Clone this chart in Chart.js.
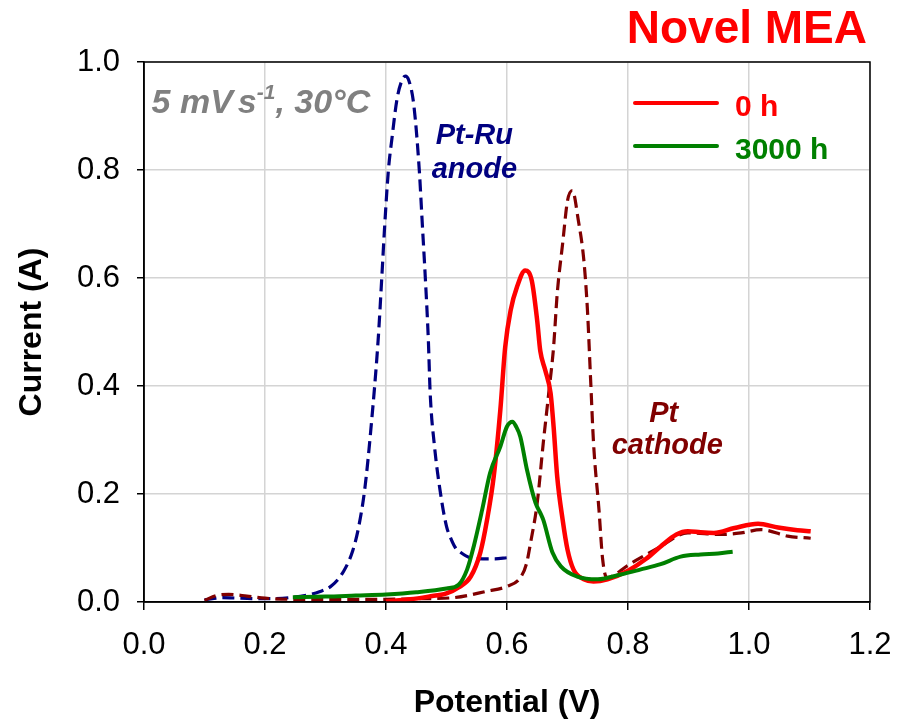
<!DOCTYPE html>
<html>
<head>
<meta charset="utf-8">
<script src="https://cdn.jsdelivr.net/npm/chart.js@4"></script>
<style>
  html, body { margin: 0; padding: 0; background: #fff; }
  #wrap { width: 906px; height: 723px; }
</style>
</head>
<body>
<div id="wrap"><canvas id="cvChart" width="906" height="723"></canvas></div>
<script>
// Pt-Ru anode reference (dashed navy)
var anodeV = [0.10, 0.13, 0.16, 0.20, 0.24, 0.27, 0.29, 0.31, 0.33, 0.345, 0.355, 0.365, 0.375, 0.387, 0.393, 0.398, 0.404, 0.41, 0.418, 0.426, 0.432, 0.438, 0.446, 0.455, 0.46, 0.465, 0.47, 0.473, 0.48, 0.49, 0.50, 0.506, 0.515, 0.523, 0.539, 0.56, 0.58, 0.60];
var anodeI = [0.004, 0.008, 0.007, 0.006, 0.008, 0.013, 0.019, 0.030, 0.057, 0.095, 0.14, 0.21, 0.32, 0.485, 0.60, 0.70, 0.80, 0.86, 0.93, 0.965, 0.974, 0.965, 0.92, 0.80, 0.70, 0.60, 0.485, 0.387, 0.29, 0.202, 0.14, 0.121, 0.10, 0.092, 0.082, 0.080, 0.080, 0.082];

// Pt cathode reference (dashed maroon)
var cathodeV = [0.10, 0.12, 0.14, 0.17, 0.20, 0.25, 0.31, 0.40, 0.45, 0.511, 0.567, 0.60, 0.622, 0.632, 0.639, 0.65, 0.66, 0.669, 0.677, 0.683, 0.692, 0.70, 0.708, 0.718, 0.727, 0.733, 0.738, 0.743, 0.752, 0.758, 0.765, 0.80, 0.816, 0.85, 0.899, 0.954, 0.987, 1.02, 1.064, 1.102];
var cathodeI = [0.003, 0.012, 0.014, 0.011, 0.007, 0.005, 0.005, 0.005, 0.006, 0.008, 0.02, 0.029, 0.045, 0.07, 0.11, 0.184, 0.295, 0.387, 0.472, 0.571, 0.664, 0.743, 0.762, 0.706, 0.633, 0.54, 0.417, 0.295, 0.171, 0.08, 0.045, 0.068, 0.079, 0.10, 0.128, 0.125, 0.128, 0.134, 0.122, 0.118];

// Novel MEA, 0 h
var mea0V = [0.40, 0.44, 0.47, 0.50, 0.52, 0.54, 0.556, 0.567, 0.578, 0.589, 0.597, 0.606, 0.617, 0.63, 0.641, 0.65, 0.655, 0.663, 0.672, 0.677, 0.683, 0.692, 0.70, 0.71, 0.727, 0.743, 0.766, 0.80, 0.83, 0.854, 0.88, 0.899, 0.92, 0.942, 0.976, 1.015, 1.048, 1.08, 1.102];
var mea0I = [0.001, 0.005, 0.010, 0.016, 0.027, 0.047, 0.092, 0.152, 0.232, 0.356, 0.472, 0.54, 0.585, 0.614, 0.595, 0.52, 0.465, 0.43, 0.387, 0.325, 0.232, 0.152, 0.097, 0.06, 0.042, 0.038, 0.042, 0.058, 0.08, 0.103, 0.125, 0.131, 0.129, 0.128, 0.137, 0.145, 0.138, 0.133, 0.131];

// Novel MEA, 3000 h
var mea3000V = [0.246, 0.30, 0.35, 0.40, 0.45, 0.50, 0.52, 0.534, 0.545, 0.559, 0.572, 0.589, 0.60, 0.609, 0.615, 0.622, 0.633, 0.647, 0.655, 0.66, 0.675, 0.689, 0.716, 0.75, 0.788, 0.82, 0.854, 0.887, 0.92, 0.949, 0.973];
var mea3000I = [0.009, 0.010, 0.012, 0.014, 0.018, 0.025, 0.032, 0.06, 0.103, 0.171, 0.239, 0.288, 0.325, 0.334, 0.325, 0.306, 0.245, 0.184, 0.165, 0.152, 0.092, 0.066, 0.047, 0.042, 0.051, 0.06, 0.07, 0.084, 0.088, 0.090, 0.093];

var xTicks = [0.0, 0.2, 0.4, 0.6, 0.8, 1.0, 1.2];
var yTicks = [0.0, 0.2, 0.4, 0.6, 0.8, 1.0];
var seriesLabels = ["0 h", "3000 h"];
var chartTitle = "Novel MEA";

var FONT = '"Liberation Sans", Arial, Helvetica, sans-serif';

function toPoints(xs, ys) {
  return xs.map(function (x, i) { return { x: x, y: ys[i] }; });
}

// text, legend and frame drawn on top of the chart
var decorPlugin = {
  id: 'decor',
  afterDraw: function (chart) {
    var ctx = chart.ctx, a = chart.chartArea;
    var xs = chart.scales.x, ys = chart.scales.y;
    ctx.save();

    // plot frame
    ctx.strokeStyle = '#000';
    ctx.lineWidth = 1.5;
    ctx.strokeRect(a.left, a.top, a.right - a.left, a.bottom - a.top);

    // title
    ctx.fillStyle = '#ff0000';
    ctx.font = 'bold 46px ' + FONT;
    ctx.textAlign = 'right';
    ctx.textBaseline = 'alphabetic';
    ctx.fillText(chartTitle, a.right - 3, 43);

    // legend
    var legColors = ['#ff0000', '#008000'];
    ctx.lineWidth = 4;
    ctx.lineCap = 'round';
    ctx.textAlign = 'left';
    ctx.font = 'bold 30px ' + FONT;
    for (var i = 0; i < seriesLabels.length; i++) {
      var ly = a.top + 41 + i * 43;
      ctx.strokeStyle = legColors[i];
      ctx.beginPath();
      ctx.moveTo(a.right - 235, ly);
      ctx.lineTo(a.right - 153, ly);
      ctx.stroke();
      ctx.fillStyle = legColors[i];
      ctx.fillText(seriesLabels[i], a.right - 135, ly + 13);
    }

    // scan rate note
    var nx = xs.getPixelForValue(0.0125), ny = ys.getPixelForValue(0.906);
    ctx.fillStyle = '#808080';
    ctx.font = 'italic bold 34px ' + FONT;
    ctx.fillText('5 mV', nx, ny);
    nx += ctx.measureText('5 mV').width + 5;
    ctx.fillText('s', nx, ny);
    nx += ctx.measureText('s').width;
    ctx.font = 'italic bold 21px ' + FONT;
    ctx.fillText('-1', nx, ny - 14);
    nx += ctx.measureText('-1').width;
    ctx.font = 'italic bold 34px ' + FONT;
    ctx.fillText(', 30°C', nx, ny);

    // curve labels
    ctx.textAlign = 'center';
    ctx.font = 'italic bold 29px ' + FONT;
    ctx.fillStyle = '#000080';
    ctx.fillText('Pt-Ru', xs.getPixelForValue(0.546), ys.getPixelForValue(0.849));
    ctx.fillText('anode', xs.getPixelForValue(0.546), ys.getPixelForValue(0.786));
    ctx.fillStyle = '#800000';
    ctx.fillText('Pt', xs.getPixelForValue(0.859), ys.getPixelForValue(0.334));
    ctx.fillText('cathode', xs.getPixelForValue(0.865), ys.getPixelForValue(0.275));

    ctx.restore();
  }
};

new Chart(document.getElementById('cvChart'), {
  type: 'scatter',
  data: {
    datasets: [
      {
        label: 'Pt-Ru anode',
        data: toPoints(anodeV, anodeI),
        borderColor: '#000080',
        borderWidth: 3.2,
        borderDash: [12, 6],
        order: 4
      },
      {
        label: 'Pt cathode',
        data: toPoints(cathodeV, cathodeI),
        borderColor: '#800000',
        borderWidth: 3.2,
        borderDash: [12, 6],
        order: 3
      },
      {
        label: seriesLabels[0],
        data: toPoints(mea0V, mea0I),
        borderColor: '#ff0000',
        borderWidth: 4.5,
        order: 2
      },
      {
        label: seriesLabels[1],
        data: toPoints(mea3000V, mea3000I),
        borderColor: '#008000',
        borderWidth: 4,
        order: 1
      }
    ]
  },
  options: {
    responsive: false,
    animation: false,
    datasets: {
      scatter: {
        showLine: true,
        pointRadius: 0,
        pointHoverRadius: 0,
        fill: false,
        cubicInterpolationMode: 'monotone'
      }
    },
    layout: { padding: { top: 62, right: 36, left: 0, bottom: 0 } },
    plugins: {
      legend: { display: false },
      title: { display: false },
      tooltip: { enabled: false }
    },
    scales: {
      x: {
        type: 'linear',
        min: 0,
        max: 1.2,
        afterBuildTicks: function (s) { s.ticks = xTicks.map(function (v) { return { value: v }; }); },
        afterFit: function (s) { s.height = 121; s.paddingLeft = 0; s.paddingRight = 0; },
        ticks: {
          color: '#000',
          padding: 17,
          font: { family: FONT, size: 31 },
          callback: function (v) { return Number(v).toFixed(1); }
        },
        grid: { color: '#d4d4d4', lineWidth: 1.5, tickColor: '#000', tickLength: 8 },
        border: { color: '#000', width: 1.5 },
        title: {
          display: true,
          text: 'Potential (V)',
          color: '#000',
          font: { family: FONT, size: 32, weight: 'bold' },
          padding: { top: 0, bottom: 1 }
        }
      },
      y: {
        type: 'linear',
        min: 0,
        max: 1.0,
        afterBuildTicks: function (s) { s.ticks = yTicks.map(function (v) { return { value: v }; }); },
        afterFit: function (s) { s.width = 144; s.paddingTop = 0; s.paddingBottom = 0; },
        ticks: {
          color: '#000',
          padding: 17,
          font: { family: FONT, size: 31 },
          callback: function (v) { return Number(v).toFixed(1); }
        },
        grid: { color: '#d4d4d4', lineWidth: 1.5, tickColor: '#000', tickLength: 7 },
        border: { color: '#000', width: 1.5 },
        title: {
          display: true,
          text: 'Current (A)',
          color: '#000',
          font: { family: FONT, size: 32, weight: 'bold' },
          padding: { top: 13, bottom: 0 }
        }
      }
    }
  },
  plugins: [decorPlugin]
});
</script>
</body>
</html>
